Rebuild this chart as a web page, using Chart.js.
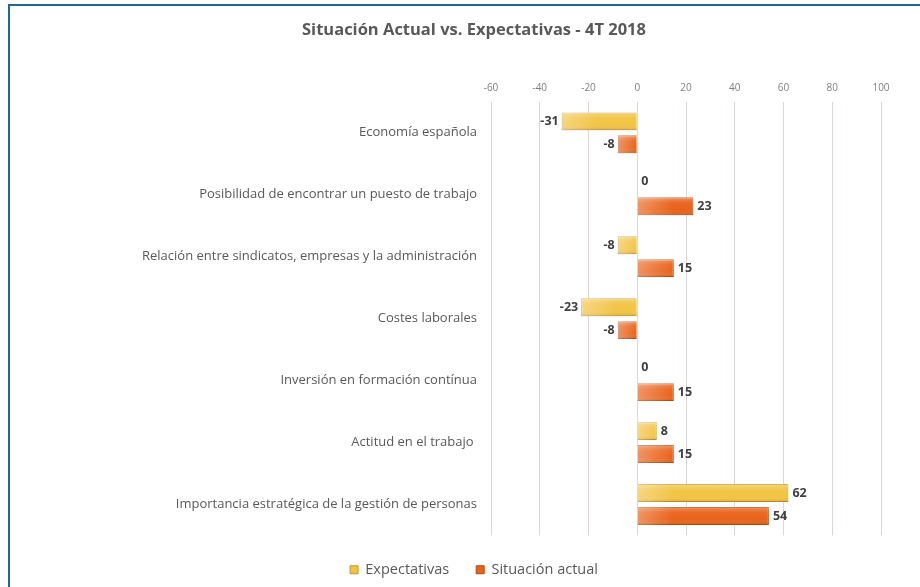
<!DOCTYPE html>
<html>
<head>
<meta charset="utf-8">
<script src="https://cdn.jsdelivr.net/npm/chart.js@4.4.1/dist/chart.umd.min.js"></script>
<style>
  html, body { margin: 0; padding: 0; background: #fff; }
  #wrap { position: relative; width: 920px; height: 587px; }
  #frame { position: absolute; left: 8px; top: 4px; right: 0; bottom: 0;
           border-top: 2px solid #1d6a8f; border-left: 2px solid #1d6a8f; pointer-events: none; }
</style>
</head>
<body>
<div id="wrap">
  <canvas id="myChart" width="920" height="587"></canvas>
  <div id="frame"></div>
</div>
<script>
const categories = [
    'Economía española',
    'Posibilidad de encontrar un puesto de trabajo',
    'Relación entre sindicatos, empresas y la administración',
    'Costes laborales',
    'Inversión en formación contínua',
    'Actitud en el trabajo ',
    'Importancia estratégica de la gestión de personas'
];
const expectativas = [-31, 0, -8, -23, 0, 8, 62];
const situacionActual = [-8, 23, 15, -8, 15, 15, 54];
const xTicks = [-60, -40, -20, 0, 20, 40, 60, 80, 100];

const fontFamily = '"Open Sans", "Noto Sans", sans-serif';
const textColor = '#595959';

// value labels at the end of each bar
const valueLabels = {
    id: 'valueLabels',
    afterDatasetsDraw(chart) {
        const ctx = chart.ctx;
        ctx.save();
        ctx.font = 'bold 12.5px ' + fontFamily;
        ctx.fillStyle = '#404040';
        ctx.textBaseline = 'middle';
        chart.data.datasets.forEach((ds, di) => {
            const meta = chart.getDatasetMeta(di);
            meta.data.forEach((el, i) => {
                const v = ds.data[i];
                if (v < 0) {
                    ctx.textAlign = 'right';
                    ctx.fillText(String(v), el.x - 3, el.y);
                } else {
                    ctx.textAlign = 'left';
                    ctx.fillText(String(v), el.x + 4, v === 0 ? el.y - 2 : el.y);
                }
            });
        });
        ctx.restore();
    }
};

// glossy shading over the flat bars
const barGloss = {
    id: 'barGloss',
    afterDatasetsDraw(chart) {
        const ctx = chart.ctx;
        ctx.save();
        chart.data.datasets.forEach((ds, di) => {
            const meta = chart.getDatasetMeta(di);
            meta.data.forEach((el) => {
                const p = el.getProps(['x', 'y', 'base', 'height'], true);
                const left = Math.min(p.x, p.base);
                const w = Math.abs(p.x - p.base);
                if (w < 1) return;
                const top = p.y - p.height / 2;
                const g = ctx.createLinearGradient(0, top, 0, top + p.height);
                g.addColorStop(0, 'rgba(255,255,255,0.3)');
                g.addColorStop(0.3, 'rgba(255,255,255,0.05)');
                g.addColorStop(0.7, 'rgba(255,255,255,0)');
                g.addColorStop(1, 'rgba(110,50,0,0.2)');
                ctx.fillStyle = g;
                ctx.fillRect(left, top, w, p.height);
                const h = ctx.createLinearGradient(left, 0, left + Math.min(w, 35), 0);
                h.addColorStop(0, 'rgba(255,255,255,0.3)');
                h.addColorStop(1, 'rgba(255,255,255,0)');
                ctx.fillStyle = h;
                ctx.fillRect(left, top, Math.min(w, 35), p.height);
            });
        });
        ctx.restore();
    }
};

const myChartRef = document.getElementById('myChart').getContext('2d');

new Chart(myChartRef, {
    type: 'bar',
    data: {
        labels: categories,
        datasets: [
            {
                label: 'Expectativas',
                data: expectativas,
                backgroundColor: '#f2c444',
                borderColor: '#c9962c',
                borderWidth: 1,
                categoryPercentage: 0.74,
                barPercentage: 0.78
            },
            {
                label: 'Situación actual',
                data: situacionActual,
                backgroundColor: '#e9621a',
                borderColor: '#b24b14',
                borderWidth: 1,
                categoryPercentage: 0.74,
                barPercentage: 0.78
            }
        ]
    },
    options: {
        indexAxis: 'y',
        responsive: false,
        animation: false,
        layout: { padding: { top: 20, left: 67, right: 39, bottom: 0 } },
        plugins: {
            title: {
                display: true,
                text: 'Situación Actual vs. Expectativas - 4T 2018',
                color: textColor,
                font: { family: fontFamily, size: 16.5, weight: 'bold' },
                padding: { top: 0, bottom: 0 }
            },
            legend: {
                position: 'bottom',
                labels: {
                    boxWidth: 8,
                    boxHeight: 8,
                    padding: 27,
                    color: textColor,
                    font: { family: fontFamily, size: 14.5 }
                }
            },
            tooltip: { enabled: false }
        },
        scales: {
            x: {
                position: 'top',
                min: -60,
                max: 100,
                afterBuildTicks: (scale) => { scale.ticks = xTicks.map(v => ({ value: v })); },
                afterFit: (scale) => { scale.height = 62; },
                ticks: {
                    padding: 8,
                    color: '#7f7f7f',
                    font: { family: fontFamily, size: 10 }
                },
                grid: { color: '#ddd6d6', drawTicks: false },
                border: { display: false }
            },
            y: {
                afterFit: (scale) => { scale.width = 424; },
                ticks: {
                    padding: 6,
                    color: textColor,
                    font: { family: fontFamily, size: 13 }
                },
                grid: { display: false },
                border: { display: false }
            }
        }
    },
    plugins: [barGloss, valueLabels]
});
</script>
</body>
</html>
